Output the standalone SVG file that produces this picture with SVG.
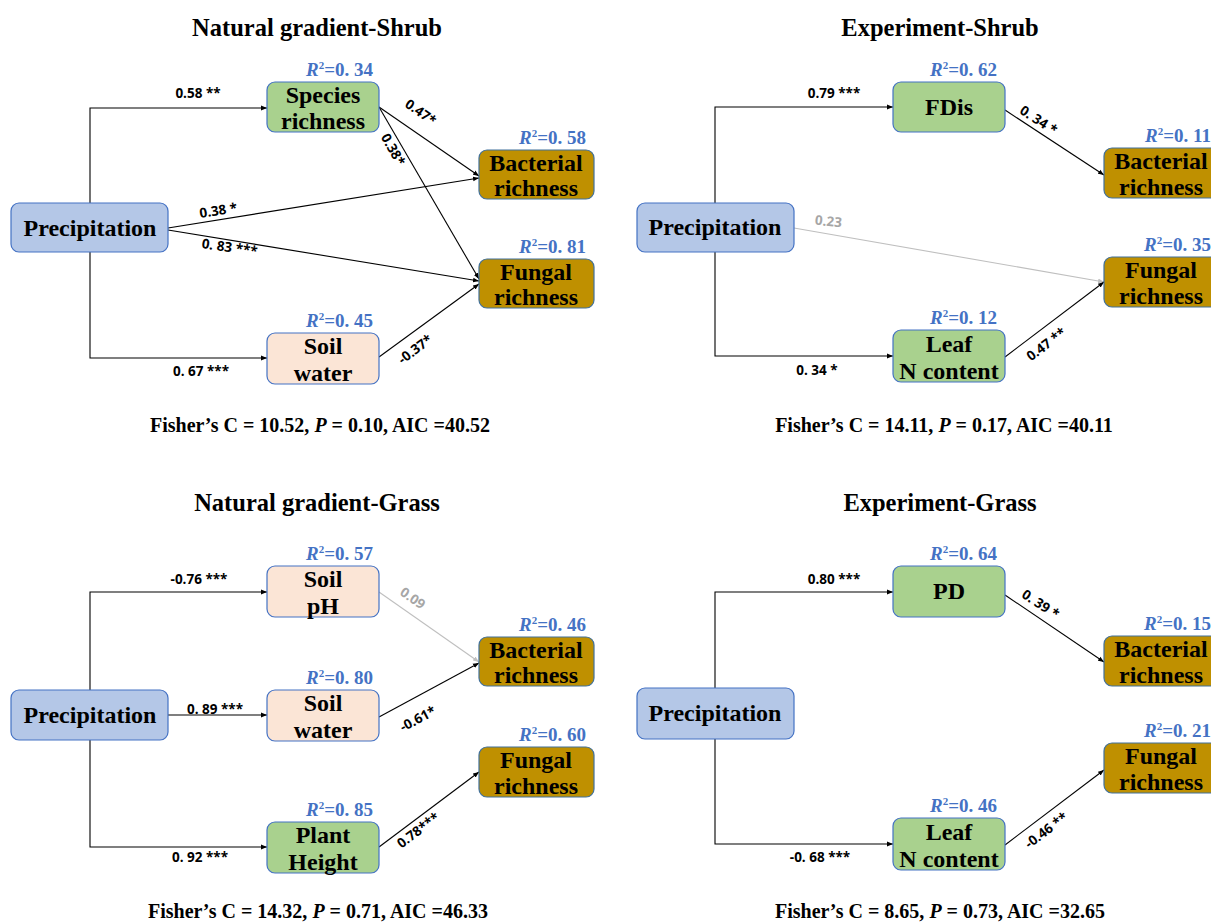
<svg xmlns="http://www.w3.org/2000/svg" width="1211" height="922" viewBox="0 0 1211 922">
<style>
.title{font-family:"Liberation Serif","Times New Roman",serif;font-weight:bold;font-size:24.5px;fill:#000;text-anchor:middle}
.fisher{font-family:"Liberation Serif","Times New Roman",serif;font-weight:bold;font-size:20px;fill:#000;text-anchor:middle}
.nt{font-family:"Liberation Serif","Times New Roman",serif;font-weight:bold;font-size:24px;fill:#000;text-anchor:middle}
.r2{font-family:"Liberation Serif","Times New Roman",serif;font-weight:bold;font-size:19px;fill:#4472c4;text-anchor:end}
.el{font-family:"Open Sans","Liberation Sans",Arial,sans-serif;font-weight:bold;font-size:13.5px;fill:#000;text-anchor:middle}
.elg{font-family:"Open Sans","Liberation Sans",Arial,sans-serif;font-weight:bold;font-size:13.5px;fill:#a6a6a6;text-anchor:middle}
.precip{fill:#b4c7e7;stroke:#4472c4;stroke-width:1.2}
.green{fill:#a9d18e;stroke:#4472c4;stroke-width:1.2}
.peach{fill:#fbe5d6;stroke:#4472c4;stroke-width:1.2}
.brown{fill:#bf9000;stroke:#41719c;stroke-width:1.2}
.ln{fill:none;stroke:#000;stroke-width:1.1;marker-end:url(#ah)}
.lg{fill:none;stroke:#bfbfbf;stroke-width:1.1;marker-end:url(#ahg)}
</style>
<defs>
<marker id="ah" viewBox="0 0 10 10" refX="10" refY="5" markerWidth="6" markerHeight="6" markerUnits="userSpaceOnUse" orient="auto"><path d="M0,1 L10,5 L0,9 z" fill="#000"/></marker>
<marker id="ahg" viewBox="0 0 10 10" refX="10" refY="5" markerWidth="6" markerHeight="6" markerUnits="userSpaceOnUse" orient="auto"><path d="M0,1 L10,5 L0,9 z" fill="#bfbfbf"/></marker>
</defs>
<rect width="1211" height="922" fill="#fff"/>

<!-- Titles and fit stats -->
<text class="title" x="317" y="36">Natural gradient-Shrub</text>
<text class="title" x="940" y="36">Experiment-Shrub</text>
<text class="title" x="317" y="511">Natural gradient-Grass</text>
<text class="title" x="940" y="511">Experiment-Grass</text>
<text class="fisher" x="320" y="432">Fisher’s C = 10.52, <tspan font-style="italic">P</tspan> = 0.10, AIC =40.52</text>
<text class="fisher" x="944" y="432">Fisher’s C = 14.11, <tspan font-style="italic">P</tspan> = 0.17, AIC =40.11</text>
<text class="fisher" x="318" y="918">Fisher’s C = 14.32, <tspan font-style="italic">P</tspan> = 0.71, AIC =46.33</text>
<text class="fisher" x="940" y="918">Fisher’s C = 8.65, <tspan font-style="italic">P</tspan> = 0.73, AIC =32.65</text>

<!-- Connectors -->
<g id="connectors">
<!-- Panel 1 -->
<polyline class="ln" points="90,203 90,108 267,108"/>
<polyline class="ln" points="90,252 90,358 267,358"/>
<line class="ln" x1="379" y1="107" x2="479" y2="176"/>
<line class="ln" x1="379" y1="107" x2="479" y2="279"/>
<line class="ln" x1="168" y1="228" x2="479" y2="178"/>
<line class="ln" x1="168" y1="230" x2="479" y2="281"/>
<line class="ln" x1="379" y1="357" x2="479" y2="284"/>
<!-- Panel 2 -->
<polyline class="ln" points="715,203 715,107 893,107"/>
<polyline class="ln" points="715,252 715,356 893,356"/>
<line class="ln" x1="1005" y1="110" x2="1104" y2="175"/>
<line class="lg" x1="794" y1="228" x2="1104" y2="282"/>
<line class="ln" x1="1005" y1="357" x2="1104" y2="282"/>
<!-- Panel 3 -->
<polyline class="ln" points="90,690 90,592 267,592"/>
<line class="ln" x1="168" y1="715" x2="267" y2="715"/>
<polyline class="ln" points="90,740 90,847 267,847"/>
<line class="lg" x1="379" y1="592" x2="479" y2="662"/>
<line class="ln" x1="379" y1="717" x2="479" y2="663"/>
<line class="ln" x1="379" y1="847" x2="479" y2="772"/>
<!-- Panel 4 -->
<polyline class="ln" points="715,688 715,592 893,592"/>
<polyline class="ln" points="715,739 715,844 893,844"/>
<line class="ln" x1="1005" y1="595" x2="1104" y2="662"/>
<line class="ln" x1="1005" y1="845" x2="1104" y2="770"/>

<!-- Edge labels -->
<text class="el" x="198" y="98">0.58 **</text>
<text class="el" transform="translate(418,116) rotate(35)">0.47*</text>
<text class="el" transform="translate(389,152) rotate(60)">0.38*</text>
<text class="el" transform="translate(219,215) rotate(-9)">0.38 *</text>
<text class="el" transform="translate(229,252) rotate(8)">0. 83 ***</text>
<text class="el" transform="translate(418,353) rotate(-37)">-0.37*</text>
<text class="el" x="201" y="376">0. 67 ***</text>

<text class="el" x="834" y="98">0.79 ***</text>
<text class="el" transform="translate(1036,124) rotate(33)">0. 34 *</text>
<text class="elg" transform="translate(828,226) rotate(6)">0.23</text>
<text class="el" x="817" y="375">0. 34 *</text>
<text class="el" transform="translate(1049,348) rotate(-37)">0.47 **</text>

<text class="el" x="199" y="584">-0.76 ***</text>
<text class="elg" transform="translate(410,602) rotate(35)">0.09</text>
<text class="el" x="215" y="714">0. 89 ***</text>
<text class="el" transform="translate(420,723) rotate(-28)">-0.61*</text>
<text class="el" x="200" y="862">0. 92 ***</text>
<text class="el" transform="translate(421,834) rotate(-37)">0.78***</text>

<text class="el" x="834" y="584">0.80 ***</text>
<text class="el" transform="translate(1038,608) rotate(33)">0. 39 *</text>
<text class="el" x="820" y="862">-0. 68 ***</text>
<text class="el" transform="translate(1049,834) rotate(-37)">-0.46 **</text>
</g>

<!-- Panel 1 nodes -->
<g id="p1-precipitation"><rect class="precip" x="11" y="203" width="157" height="49" rx="8"/><text class="nt" x="90" y="236">Precipitation</text></g>
<g id="p1-species"><rect class="green" x="267" y="82" width="112" height="50" rx="8"/><text class="nt" x="323" y="103">Species</text><text class="nt" x="323" y="129">richness</text><text class="r2" x="373" y="76"><tspan font-style="italic">R</tspan><tspan dy="-7" font-size="11">2</tspan><tspan dy="7">=0. 34</tspan></text></g>
<g id="p1-bacterial"><rect class="brown" x="479" y="150" width="115" height="49" rx="8"/><text class="nt" x="536" y="171">Bacterial</text><text class="nt" x="536" y="196">richness</text><text class="r2" x="586" y="144"><tspan font-style="italic">R</tspan><tspan dy="-7" font-size="11">2</tspan><tspan dy="7">=0. 58</tspan></text></g>
<g id="p1-fungal"><rect class="brown" x="479" y="259" width="115" height="49" rx="8"/><text class="nt" x="536" y="280">Fungal</text><text class="nt" x="536" y="305">richness</text><text class="r2" x="586" y="253"><tspan font-style="italic">R</tspan><tspan dy="-7" font-size="11">2</tspan><tspan dy="7">=0. 81</tspan></text></g>
<g id="p1-soilwater"><rect class="peach" x="267" y="333" width="112" height="51" rx="8"/><text class="nt" x="323" y="354">Soil</text><text class="nt" x="323" y="381">water</text><text class="r2" x="373" y="327"><tspan font-style="italic">R</tspan><tspan dy="-7" font-size="11">2</tspan><tspan dy="7">=0. 45</tspan></text></g>

<!-- Panel 2 nodes -->
<g id="p2-precipitation"><rect class="precip" x="637" y="203" width="157" height="49" rx="8"/><text class="nt" x="715" y="235">Precipitation</text></g>
<g id="p2-fdis"><rect class="green" x="893" y="82" width="112" height="50" rx="8"/><text class="nt" x="949" y="115">FDis</text><text class="r2" x="997" y="76"><tspan font-style="italic">R</tspan><tspan dy="-7" font-size="11">2</tspan><tspan dy="7">=0. 62</tspan></text></g>
<g id="p2-bacterial"><rect class="brown" x="1104" y="148" width="115" height="50" rx="8"/><text class="nt" x="1161" y="169">Bacterial</text><text class="nt" x="1161" y="195">richness</text><text class="r2" x="1211" y="142"><tspan font-style="italic">R</tspan><tspan dy="-7" font-size="11">2</tspan><tspan dy="7">=0. 11</tspan></text></g>
<g id="p2-fungal"><rect class="brown" x="1104" y="257" width="115" height="50" rx="8"/><text class="nt" x="1161" y="278">Fungal</text><text class="nt" x="1161" y="304">richness</text><text class="r2" x="1211" y="251"><tspan font-style="italic">R</tspan><tspan dy="-7" font-size="11">2</tspan><tspan dy="7">=0. 35</tspan></text></g>
<g id="p2-leafn"><rect class="green" x="893" y="330" width="112" height="52" rx="8"/><text class="nt" x="949" y="352">Leaf</text><text class="nt" x="949" y="379">N content</text><text class="r2" x="997" y="324"><tspan font-style="italic">R</tspan><tspan dy="-7" font-size="11">2</tspan><tspan dy="7">=0. 12</tspan></text></g>

<!-- Panel 3 nodes -->
<g id="p3-precipitation"><rect class="precip" x="11" y="690" width="157" height="50" rx="8"/><text class="nt" x="90" y="723">Precipitation</text></g>
<g id="p3-soilph"><rect class="peach" x="267" y="566" width="112" height="51" rx="8"/><text class="nt" x="323" y="587">Soil</text><text class="nt" x="323" y="614">pH</text><text class="r2" x="373" y="560"><tspan font-style="italic">R</tspan><tspan dy="-7" font-size="11">2</tspan><tspan dy="7">=0. 57</tspan></text></g>
<g id="p3-soilwater"><rect class="peach" x="267" y="690" width="112" height="51" rx="8"/><text class="nt" x="323" y="711">Soil</text><text class="nt" x="323" y="738">water</text><text class="r2" x="373" y="684"><tspan font-style="italic">R</tspan><tspan dy="-7" font-size="11">2</tspan><tspan dy="7">=0. 80</tspan></text></g>
<g id="p3-plantheight"><rect class="green" x="267" y="822" width="112" height="51" rx="8"/><text class="nt" x="323" y="843">Plant</text><text class="nt" x="323" y="870">Height</text><text class="r2" x="373" y="816"><tspan font-style="italic">R</tspan><tspan dy="-7" font-size="11">2</tspan><tspan dy="7">=0. 85</tspan></text></g>
<g id="p3-bacterial"><rect class="brown" x="479" y="637" width="115" height="49" rx="8"/><text class="nt" x="536" y="658">Bacterial</text><text class="nt" x="536" y="683">richness</text><text class="r2" x="586" y="631"><tspan font-style="italic">R</tspan><tspan dy="-7" font-size="11">2</tspan><tspan dy="7">=0. 46</tspan></text></g>
<g id="p3-fungal"><rect class="brown" x="479" y="747" width="115" height="50" rx="8"/><text class="nt" x="536" y="768">Fungal</text><text class="nt" x="536" y="794">richness</text><text class="r2" x="586" y="741"><tspan font-style="italic">R</tspan><tspan dy="-7" font-size="11">2</tspan><tspan dy="7">=0. 60</tspan></text></g>

<!-- Panel 4 nodes -->
<g id="p4-precipitation"><rect class="precip" x="637" y="688" width="157" height="51" rx="8"/><text class="nt" x="715" y="721">Precipitation</text></g>
<g id="p4-pd"><rect class="green" x="893" y="566" width="112" height="51" rx="8"/><text class="nt" x="949" y="599">PD</text><text class="r2" x="997" y="560"><tspan font-style="italic">R</tspan><tspan dy="-7" font-size="11">2</tspan><tspan dy="7">=0. 64</tspan></text></g>
<g id="p4-bacterial"><rect class="brown" x="1104" y="636" width="115" height="50" rx="8"/><text class="nt" x="1161" y="657">Bacterial</text><text class="nt" x="1161" y="683">richness</text><text class="r2" x="1211" y="630"><tspan font-style="italic">R</tspan><tspan dy="-7" font-size="11">2</tspan><tspan dy="7">=0. 15</tspan></text></g>
<g id="p4-fungal"><rect class="brown" x="1104" y="743" width="115" height="50" rx="8"/><text class="nt" x="1161" y="764">Fungal</text><text class="nt" x="1161" y="790">richness</text><text class="r2" x="1211" y="737"><tspan font-style="italic">R</tspan><tspan dy="-7" font-size="11">2</tspan><tspan dy="7">=0. 21</tspan></text></g>
<g id="p4-leafn"><rect class="green" x="893" y="818" width="112" height="52" rx="8"/><text class="nt" x="949" y="840">Leaf</text><text class="nt" x="949" y="867">N content</text><text class="r2" x="997" y="812"><tspan font-style="italic">R</tspan><tspan dy="-7" font-size="11">2</tspan><tspan dy="7">=0. 46</tspan></text></g>
</svg>
